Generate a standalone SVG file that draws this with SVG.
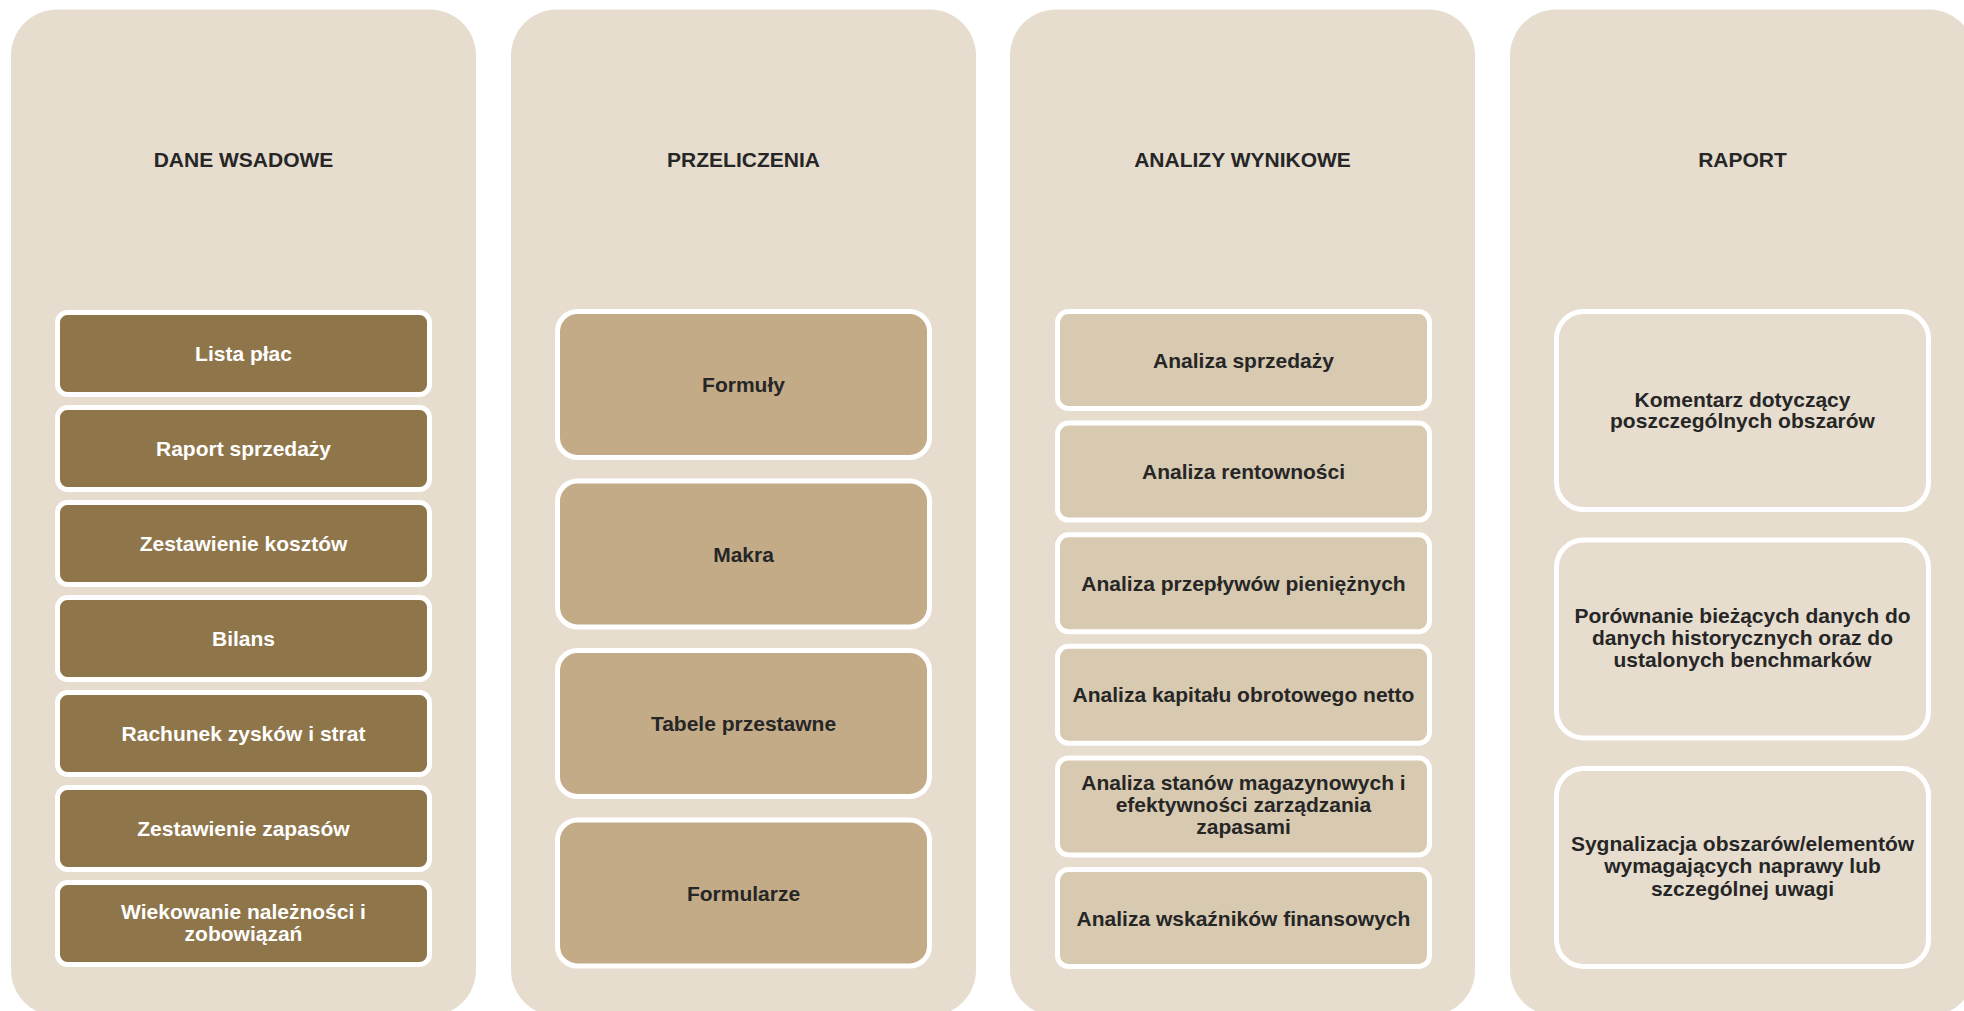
<svg xmlns="http://www.w3.org/2000/svg" width="1964" height="1011" viewBox="0 0 1964 1011">
<style>
.panel{fill:#E6DDCE}
.b{stroke:#FFFFFF;stroke-width:5}
.c1{fill:#8F754A}
.c2{fill:#C2AB86}
.c3{fill:#D8C9B1}
.c4{fill:#E6DDCE}
text{font-family:"Liberation Sans",Arial,sans-serif;font-weight:bold;font-size:21px;text-anchor:middle;fill:#262626}
.w{fill:#FFFFFF}
</style>
<rect width="1964" height="1011" fill="#FFFFFF"/>
<g id="panels">
<rect class="panel" x="11" y="9.5" width="465" height="1006.5" rx="46"/>
<rect class="panel" x="511" y="9.5" width="465" height="1006.5" rx="46"/>
<rect class="panel" x="1010" y="9.5" width="465" height="1006.5" rx="46"/>
<rect class="panel" x="1510" y="9.5" width="465" height="1006.5" rx="46"/>
</g>
<g id="titles">
<text x="243.5" y="167">DANE WSADOWE</text>
<text x="743.5" y="167">PRZELICZENIA</text>
<text x="1242.5" y="167">ANALIZY WYNIKOWE</text>
<text x="1742.5" y="167">RAPORT</text>
</g>
<g id="connectors"></g>
<g id="col1">
<g id="lista-plac"><rect class="b c1" x="57.5" y="312.5" width="372" height="82" rx="10"/><text class="w" x="243.5" y="361">Lista płac</text></g>
<g id="raport-sprzedazy"><rect class="b c1" x="57.5" y="407.5" width="372" height="82" rx="10"/><text class="w" x="243.5" y="456">Raport sprzedaży</text></g>
<g id="zestawienie-kosztow"><rect class="b c1" x="57.5" y="502.5" width="372" height="82" rx="10"/><text class="w" x="243.5" y="551">Zestawienie kosztów</text></g>
<g id="bilans"><rect class="b c1" x="57.5" y="597.5" width="372" height="82" rx="10"/><text class="w" x="243.5" y="646">Bilans</text></g>
<g id="rachunek"><rect class="b c1" x="57.5" y="692.5" width="372" height="82" rx="10"/><text class="w" x="243.5" y="741">Rachunek zysków i strat</text></g>
<g id="zestawienie-zapasow"><rect class="b c1" x="57.5" y="787.5" width="372" height="82" rx="10"/><text class="w" x="243.5" y="836">Zestawienie zapasów</text></g>
<g id="wiekowanie"><rect class="b c1" x="57.5" y="882.5" width="372" height="82" rx="10"/><text class="w" x="243.5" y="919"><tspan x="243.5">Wiekowanie należności i</tspan><tspan x="243.5" dy="22">zobowiązań</tspan></text></g>
</g>
<g id="col2">
<g id="formuly"><rect class="b c2" x="557.5" y="311.5" width="372" height="146" rx="20"/><text x="743.5" y="392">Formuły</text></g>
<g id="makra"><rect class="b c2" x="557.5" y="481" width="372" height="146" rx="20"/><text x="743.5" y="561.5">Makra</text></g>
<g id="tabele"><rect class="b c2" x="557.5" y="650.5" width="372" height="146" rx="20"/><text x="743.5" y="731">Tabele przestawne</text></g>
<g id="formularze"><rect class="b c2" x="557.5" y="820" width="372" height="146" rx="20"/><text x="743.5" y="900.5">Formularze</text></g>
</g>
<g id="col3">
<g id="a-sprzedazy"><rect class="b c3" x="1057.5" y="311.5" width="372" height="97" rx="11"/><text x="1243.5" y="367.5">Analiza sprzedaży</text></g>
<g id="a-rentownosci"><rect class="b c3" x="1057.5" y="423.1" width="372" height="97" rx="11"/><text x="1243.5" y="479">Analiza rentowności</text></g>
<g id="a-przeplywow"><rect class="b c3" x="1057.5" y="534.7" width="372" height="97" rx="11"/><text x="1243.5" y="590.7">Analiza przepływów pieniężnych</text></g>
<g id="a-kapitalu"><rect class="b c3" x="1057.5" y="646.3" width="372" height="97" rx="11"/><text x="1243.5" y="702.3">Analiza kapitału obrotowego netto</text></g>
<g id="a-stanow"><rect class="b c3" x="1057.5" y="757.9" width="372" height="97" rx="11"/><text x="1243.5" y="789.5"><tspan x="1243.5">Analiza stanów magazynowych i</tspan><tspan x="1243.5" dy="22">efektywności zarządzania</tspan><tspan x="1243.5" dy="22">zapasami</tspan></text></g>
<g id="a-wskaznikow"><rect class="b c3" x="1057.5" y="869.5" width="372" height="97" rx="11"/><text x="1243.5" y="925.5">Analiza wskaźników finansowych</text></g>
</g>
<g id="col4">
<g id="komentarz"><rect class="b c4" x="1556.5" y="311.5" width="372" height="198" rx="27"/><text x="1742.5" y="407"><tspan x="1742.5">Komentarz dotyczący</tspan><tspan x="1742.5" dy="21">poszczególnych obszarów</tspan></text></g>
<g id="porownanie"><rect class="b c4" x="1556.5" y="540" width="372" height="198" rx="27"/><text x="1742.5" y="623"><tspan x="1742.5">Porównanie bieżących danych do</tspan><tspan x="1742.5" dy="22">danych historycznych oraz do</tspan><tspan x="1742.5" dy="22">ustalonych benchmarków</tspan></text></g>
<g id="sygnalizacja"><rect class="b c4" x="1556.5" y="768.5" width="372" height="198" rx="27"/><text x="1742.5" y="850.5"><tspan x="1742.5">Sygnalizacja obszarów/elementów</tspan><tspan x="1742.5" dy="22.5">wymagających naprawy lub</tspan><tspan x="1742.5" dy="22.5">szczególnej uwagi</tspan></text></g>
</g>
</svg>
